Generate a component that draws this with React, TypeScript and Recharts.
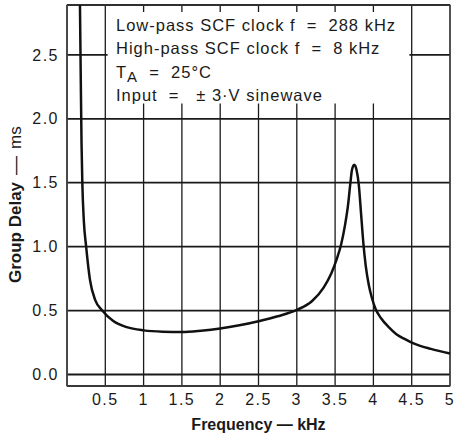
import React from "react";
import {
  LineChart,
  Line,
  XAxis,
  YAxis,
  CartesianGrid,
  ReferenceArea,
  Label,
} from "recharts";

// group delay curve
const freqKHz = [
  0.168, 0.18, 0.19, 0.2, 0.22, 0.25, 0.3, 0.37, 0.46, 0.6, 0.78, 1.0, 1.25,
  1.5, 1.75, 2.0, 2.25, 2.5, 2.75, 3.0, 3.2, 3.35, 3.45, 3.52, 3.58, 3.63,
  3.67, 3.7, 3.72, 3.75, 3.78, 3.81, 3.84, 3.87, 3.9, 3.94, 3.98, 4.03, 4.1,
  4.2, 4.3, 4.4, 4.5, 4.75, 5.0,
];
const delayMs = [
  2.95, 2.3, 1.8, 1.5, 1.2, 1.0, 0.74, 0.58, 0.5, 0.42, 0.37, 0.345, 0.335,
  0.333, 0.343, 0.36, 0.385, 0.417, 0.455, 0.505, 0.575, 0.68, 0.79, 0.9, 1.02,
  1.17, 1.33, 1.5, 1.6, 1.64, 1.6, 1.48, 1.25, 1.02, 0.85, 0.7, 0.6, 0.51,
  0.44, 0.37, 0.315, 0.28, 0.25, 0.2, 0.164,
];

const xTicks = [0.5, 1, 1.5, 2, 2.5, 3, 3.5, 4, 4.5, 5];
const yTicks = [0, 0.5, 1, 1.5, 2, 2.5];

const notes = [
  "Low-pass SCF clock f  =  288 kHz",
  "High-pass SCF clock f  =  8 kHz",
  "T_A  =  25\u00b0C",
  "Input  =   \u00b1 3\u00b7V sinewave",
];

const data = freqKHz.map((f, i) => ({ f, delay: delayMs[i] }));

const font = '"Liberation Sans", Arial, Helvetica, sans-serif';
const ink = "#1a1a1a";

function YTitle() {
  return (
    <text
      transform="translate(21,283) rotate(-90)"
      textAnchor="start"
      fontFamily={font}
      fontSize={17}
      fill={ink}
    >
      <tspan fontWeight="bold">Group Delay</tspan>
      <tspan dx={7} fontSize={19}>
        —
      </tspan>
      <tspan dx={7}>ms</tspan>
    </text>
  );
}

function Note({ text, top }: { text: string; top: number }) {
  const style: React.CSSProperties = {
    position: "absolute",
    left: 116,
    top,
    whiteSpace: "pre",
  };
  if (text.startsWith("T_A")) {
    return (
      <div style={style}>
        T<span style={{ fontSize: 15, position: "relative", top: 4 }}>A</span>
        {text.slice(3)}
      </div>
    );
  }
  return <div style={style}>{text}</div>;
}

const tickStyle = {
  fontSize: 16,
  fill: ink,
  fontFamily: font,
  letterSpacing: 1.5,
};

export default function App() {
  return (
    <div
      style={{
        position: "absolute",
        left: 0,
        top: 0,
        width: 455,
        height: 438,
        background: "#fff",
        fontFamily: font,
      }}
    >
      <LineChart
        width={455}
        height={438}
        data={data}
        margin={{ top: 5, right: 5, bottom: 0, left: 0 }}
      >
        <CartesianGrid vertical={false} stroke={ink} strokeWidth={1.8} />
        <CartesianGrid horizontal={false} stroke={ink} strokeWidth={1.3} />
        <XAxis
          type="number"
          dataKey="f"
          domain={[0, 5]}
          ticks={xTicks}
          height={52}
          tickLine={false}
          tickSize={0}
          tickMargin={8}
          axisLine={{ stroke: "#444", strokeWidth: 1.2 }}
          tick={tickStyle}
        >
          <Label
            value="Frequency — kHz"
            position="insideBottom"
            offset={8}
            style={{
              fontFamily: font,
              fontWeight: "bold",
              fontSize: 16,
              fill: ink,
            }}
          />
        </XAxis>
        <YAxis
          type="number"
          domain={[-0.09, 2.89]}
          allowDataOverflow
          ticks={yTicks}
          width={67}
          tickLine={false}
          tickSize={0}
          tickMargin={8}
          axisLine={{ stroke: "#444", strokeWidth: 1.2 }}
          tickFormatter={(v: number) => v.toFixed(1)}
          tick={tickStyle}
        >
          <Label content={<YTitle />} />
        </YAxis>
        {/* white panel behind the test conditions */}
        <ReferenceArea
          x1={0.53}
          x2={4.47}
          y1={2.12}
          y2={2.835}
          fill="#fff"
          fillOpacity={1}
          stroke="none"
        />
        <ReferenceArea
          x1={0}
          x2={5}
          y1={-0.09}
          y2={2.89}
          fill="none"
          stroke="#444"
          strokeWidth={1.2}
        />
        <Line
          type="monotone"
          dataKey="delay"
          stroke="#111"
          strokeWidth={2.5}
          dot={false}
          isAnimationActive={false}
        />
      </LineChart>
      <div
        style={{
          fontSize: 16.5,
          letterSpacing: 1,
          color: ink,
          lineHeight: "18px",
        }}
      >
        {notes.map((t, i) => (
          <Note key={t} text={t} top={16 + i * 23.3} />
        ))}
      </div>
    </div>
  );
}
